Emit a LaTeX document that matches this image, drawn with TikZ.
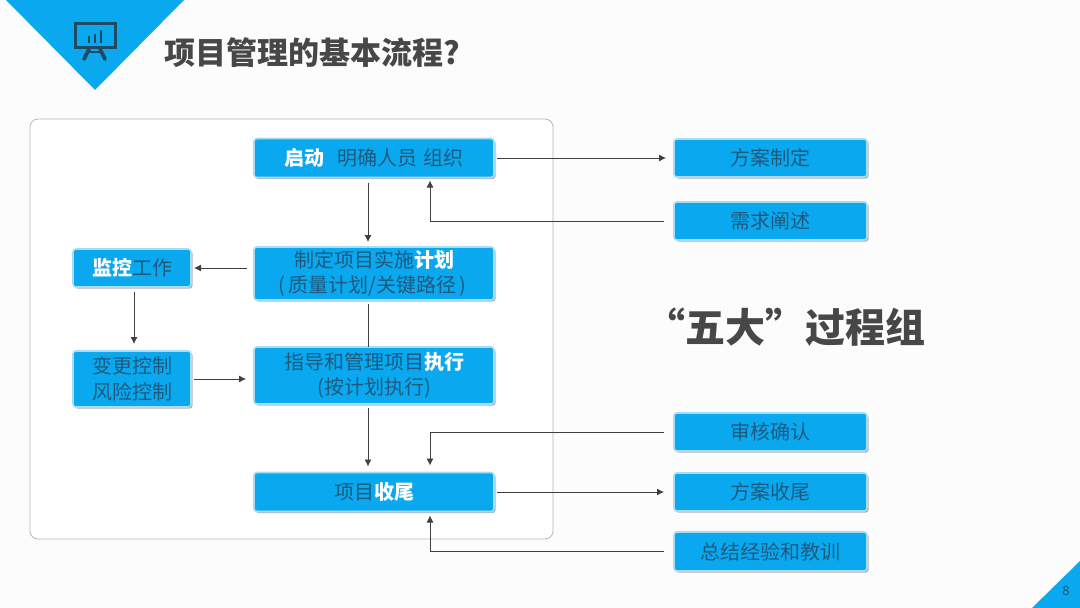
\documentclass[tikz,border=0pt]{standalone}
\usepackage{fontspec}
\setmainfont{Noto Sans CJK SC}
\usetikzlibrary{arrows.meta,shadows}
\definecolor{sky}{HTML}{0AA8EE}
\definecolor{edgeblue}{HTML}{A6DDF4}
\definecolor{inkb}{HTML}{1F5A7E}
\definecolor{titleink}{HTML}{474747}
\definecolor{iconink}{HTML}{1F4A63}
\definecolor{linegray}{HTML}{404040}
\newcommand{\hl}[1]{{\bfseries\color{white}#1}}
\tikzset{
  x=1pt,y=-1pt,
  blockbox/.style={draw=edgeblue,line width=1.6pt,fill=sky,rounded corners=3pt,text=inkb,
    font=\fontsize{20}{26}\selectfont,align=center,inner sep=0pt,outer sep=0pt,
    drop shadow={shadow xshift=1.6pt,shadow yshift=-1.6pt,opacity=.55,fill=black!55}},
  flow/.style={draw=linegray,line width=0.8pt,-{Latex[length=7pt,width=7pt]}},
  plainline/.style={draw=linegray,line width=0.8pt},
}
\begin{document}
\begin{tikzpicture}
\useasboundingbox (0,0) rectangle (1080,608);
\fill[white!99!black] (0,0) rectangle (1080,608);
% corner decorations
\fill[sky] (6,0) -- (184,0) -- (95,90) -- cycle;
\fill[sky] (1032,608) -- (1080,561) -- (1080,608) -- cycle;
\node[text=inkb,font=\fontsize{13}{13}\selectfont] (pagenum) at (1066,591) {8};
% presentation icon
\draw[iconink,line width=3pt] (75,23) rectangle (115,47);
\draw[iconink,line width=2.8pt] (89,43) -- (89,36) (95,43) -- (95,34) (101,43) -- (101,30);
\draw[iconink,line width=3.8pt,line cap=round] (89,49) -- (84,59) (100,49) -- (105,59);
\draw[iconink,line width=2.8pt] (89,52) -- (100,52);
% title
\node[text=titleink,font=\fontsize{31}{34}\selectfont\bfseries,anchor=west,inner sep=0pt] (title) at (164,53) {项目管理的基本流程?};
\node[text=titleink,font=\fontsize{40}{44}\selectfont\bfseries,anchor=west,inner sep=0pt] (five) at (645,327) {“五大”过程组};
% frame
\draw[draw=black!28,line width=0.8pt,fill=white,rounded corners=8pt] (30,119) rectangle (553,539);
% left blocks
\node[blockbox,minimum width=240pt,minimum height=39pt] (qd) at (374,158) {\hl{启动}\hspace{0.65em}明确人员\hspace{0.3em}组织};
\node[blockbox,minimum width=240pt,minimum height=53pt] (jh) at (374,273.5) {\raisebox{-1pt}{制定项目实施\hl{计划}}\\\hspace{-3pt}(\hspace{3pt}质量计划/关键路径\hspace{3pt})};
\node[blockbox,minimum width=240pt,minimum height=57pt] (zx) at (374,375.5) {\raisebox{-1pt}{指导和管理项目\hl{执行}}\\(按计划执行)};
\node[blockbox,minimum width=240pt,minimum height=39pt] (sw) at (374,492) {项目\hl{收尾}};
\node[blockbox,minimum width=118pt,minimum height=38pt] (jk) at (132,268) {\hl{监控}工作};
\node[blockbox,minimum width=118pt,minimum height=56pt] (bg) at (132,379) {变更控制\\风险控制};
% right blocks
\node[blockbox,minimum width=193pt,minimum height=38pt] (fa) at (770.5,158) {方案制定};
\node[blockbox,minimum width=193pt,minimum height=38pt] (xq) at (770.5,221) {需求阐述};
\node[blockbox,minimum width=193pt,minimum height=38pt] (sh) at (770.5,432) {审核确认};
\node[blockbox,minimum width=193pt,minimum height=38pt] (fs) at (770.5,492) {方案收尾};
\node[blockbox,minimum width=193pt,minimum height=39pt] (zj) at (770.5,551.5) {总结经验和教训};
% connectors
\draw[flow,shorten <=3pt,shorten >=8pt] (qd.east) -- (fa.west);
\draw[flow,shorten <=10pt,shorten >=3pt] (xq.west) -| ([xshift=56pt]qd.south);
\draw[flow,shorten <=5pt,shorten >=5pt] ([xshift=-6pt]qd.south) -- ([xshift=-6pt]jh.north);
\draw[flow,shorten <=7pt,shorten >=3pt] (jh.west |- jk.east) -- (jk.east);
\draw[flow,shorten <=5pt,shorten >=7pt] ([xshift=2pt]jk.south) -- ([xshift=2pt]bg.north);
\draw[flow,shorten <=3pt,shorten >=8pt] (bg.east) -- (bg.east -| zx.west);
\draw[plainline,shorten <=4pt] ([xshift=-6pt]jh.south) -- ([xshift=-6pt]zx.north);
\draw[flow,shorten <=4pt,shorten >=6pt] ([xshift=-6pt]zx.south) -- ([xshift=-6pt]sw.north);
\draw[flow,shorten <=10pt,shorten >=7pt] (sh.west) -| ([xshift=56pt]sw.north);
\draw[flow,shorten <=3pt,shorten >=10pt] (sw.east) -- (fs.west);
\draw[flow,shorten <=10pt,shorten >=4pt] (zj.west) -| ([xshift=56pt]sw.south);
\end{tikzpicture}
\end{document}
